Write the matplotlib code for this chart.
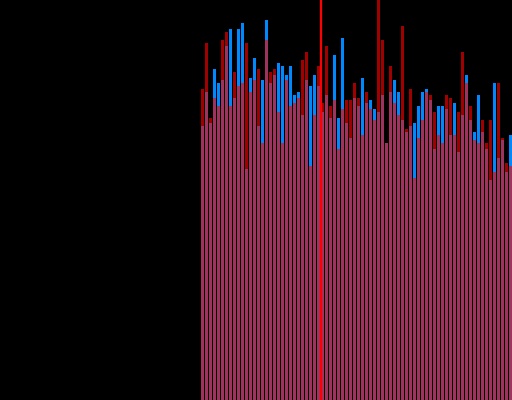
import matplotlib
matplotlib.use('Agg')
import matplotlib.pyplot as plt
import numpy as np

# two series, one value per bar
red_vals = [311, 357, 282, 302, 294, 360, 368, 294, 328, 314,
            317, 357, 308, 320, 331, 257, 360, 328, 331, 288,
            257, 320, 294, 297, 302, 340, 348, 234, 285, 334,
            297, 354, 294, 300, 251, 291, 300, 300, 317, 302,
            265, 308, 291, 280, 405, 360, 257, 334, 297, 285,
            374, 271, 311, 222, 262, 280, 308, 305, 288, 265,
            257, 305, 302, 265, 288, 348, 317, 294, 260, 257,
            280, 257, 280, 228, 317, 262, 237, 234]
blue_vals = [274, 308, 277, 331, 317, 320, 354, 371, 302, 371,
             377, 231, 322, 342, 274, 320, 380, 317, 325, 337,
             334, 325, 334, 305, 308, 285, 320, 314, 325, 314,
             288, 305, 282, 345, 282, 362, 277, 262, 302, 294,
             322, 297, 300, 291, 288, 305, 257, 308, 320, 308,
             280, 268, 274, 277, 294, 308, 311, 300, 251, 294,
             294, 291, 265, 297, 248, 285, 325, 280, 268, 305,
             268, 251, 220, 317, 242, 260, 228, 265]
marker_x = 29.5

x = np.arange(len(red_vals))

fig = plt.figure(figsize=(5.12, 4.0), dpi=100, facecolor='black')
ax = fig.add_axes([0, 0, 1, 1])
ax.set_facecolor('black')

ax.bar(x, blue_vals, width=0.75, color='#0088ff', linewidth=0)
ax.bar(x, red_vals, width=0.75, color='#ff0000', alpha=0.63, linewidth=0)
ax.axvline(marker_x, color='#ff0000', linewidth=1.6)

ax.set_xlim(-50.625, 77.375)
ax.set_ylim(0, 400)
ax.axis('off')

plt.savefig('out.png', dpi=100, facecolor='black')
